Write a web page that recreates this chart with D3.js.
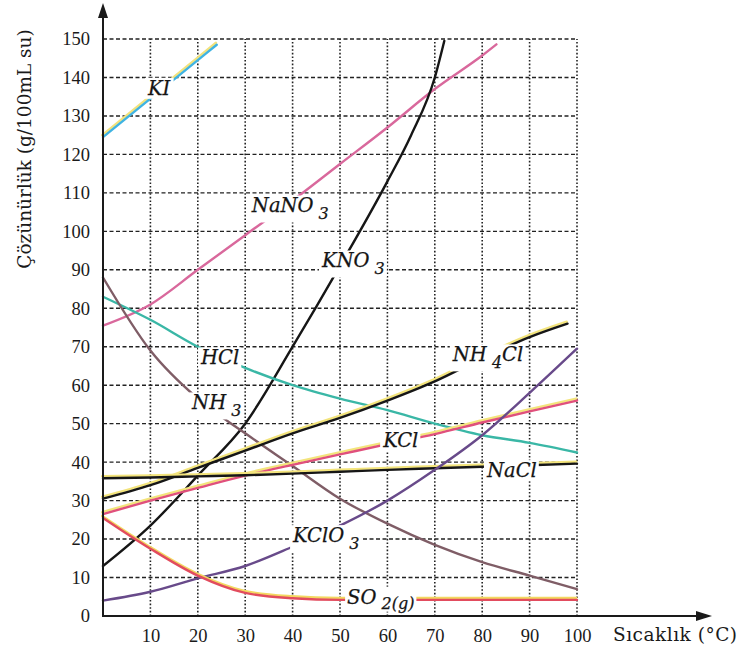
<!DOCTYPE html>
<html>
<head>
<meta charset="utf-8">
<script src="https://cdn.jsdelivr.net/npm/d3@7.9.0/dist/d3.min.js"></script>
<style>
  body { margin: 0; background: #fff; }
  svg { display: block; }
  .lbl { font-family: "DejaVu Serif", serif; font-style: italic; font-size: 19.5px; fill: #151515; stroke: #151515; stroke-width: 0.25; }
  .tick text { font-family: "Liberation Serif", serif; font-size: 18.5px; fill: #1a1a1a; }
</style>
</head>
<body>
<svg id="chart" width="740" height="651"></svg>
<script>
// === values (g / 100 mL su) ===
const temps = [0, 10, 20, 30, 40, 50, 60, 70, 80, 90, 100];

const kiT = [0, 10, 20, 24];
const kiS = [124.5, 134.5, 144.5, 148.5];

const nano3T = [0, 10, 20, 30, 40, 50, 60, 70, 80, 83];
const nano3S = [75.5, 81, 90, 99, 108, 117.5, 127, 137, 145.7, 148.6];

const kno3T = [0, 10, 20, 30, 40, 50, 60, 65, 70, 72];
const kno3S = [13, 23.5, 36.5, 50, 70, 91, 113, 125, 140, 149.5];

const nh4clT = [0, 10, 20, 30, 40, 50, 60, 70, 80, 90, 98];
const nh4clS = [30.5, 34, 38.5, 43, 47.5, 51.5, 56, 61, 67, 72.5, 76];

const hclS = [83, 77, 70, 64.5, 60, 56.5, 53.5, 50, 47, 45, 42.5];
const nh3S = [88, 69, 56.5, 47.5, 39, 30.5, 24, 18.5, 14, 10.5, 7];
const kclS = [26.5, 30, 33.3, 36.5, 39.3, 42, 44.7, 47.3, 50.3, 53.2, 56];
const naclS = [35.8, 36, 36.3, 36.6, 37, 37.5, 38, 38.4, 38.8, 39.2, 39.6];
const kclo3S = [4, 6.3, 9.8, 13, 18, 23.5, 30, 38, 47, 58, 69.5];
const so2S = [25.5, 17.5, 10.5, 6, 4.6, 4.2, 4.2, 4.2, 4.2, 4.2, 4.2];

// label names and where they sit (temperature, solubility of the text baseline start)
const labelNames = ['KI', 'NaNO3', 'KNO3', 'HCl', 'NH3', 'NH4Cl', 'KCl', 'NaCl', 'KClO3', 'SO2(g)'];
const labelT = [9.5, 31.4, 46.2, 20.7, 18.8, 73.8, 59.1, 81, 40.1, 51.5];
const labelS = [135.5, 104.9, 90.6, 65.4, 53.7, 66.2, 43.9, 36.1, 19.2, 3.2];

const yTicks = d3.range(0, 151, 10);
const xTicks = d3.range(10, 101, 10);

// === scales ===
const svg = d3.select('#chart');
const x = d3.scaleLinear().domain([0, 100]).range([103, 577]);
const y = d3.scaleLinear().domain([0, 150]).range([616, 39]);

// grid: dashed horizontals, dotted verticals
const grid = svg.append('g').attr('stroke', '#222').attr('fill', 'none');
grid.selectAll('line.h')
  .data(yTicks.filter(d => d > 0))
  .join('line')
  .attr('class', 'h')
  .attr('x1', x(0)).attr('x2', x(100))
  .attr('y1', d => y(d)).attr('y2', d => y(d))
  .attr('stroke-width', 1.4)
  .attr('stroke-dasharray', '4,2.5');
grid.selectAll('line.v')
  .data(xTicks)
  .join('line')
  .attr('class', 'v')
  .attr('x1', d => x(d)).attr('x2', d => x(d))
  .attr('y1', y(0)).attr('y2', y(150))
  .attr('stroke-width', 1.6)
  .attr('stroke-dasharray', '1.6,2');

// === curves ===
const series = [
  { t: kiT, s: kiS, color: '#3fb3e2', under: '#f2e27c' },
  { t: nano3T, s: nano3S, color: '#d9689c' },
  { t: kno3T, s: kno3S, color: '#161616' },
  { t: temps, s: hclS, color: '#3ab7a6' },
  { t: temps, s: nh3S, color: '#7f5d66' },
  { t: nh4clT, s: nh4clS, color: '#161616', under: '#f3e47c' },
  { t: temps, s: kclS, color: '#e0507c', under: '#f3e47c' },
  { t: temps, s: naclS, color: '#161616', under: '#f3e47c' },
  { t: temps, s: kclo3S, color: '#684a8a' },
  { t: temps, s: so2S, color: '#e24c5e', under: '#f3d860' }
];

const line = d3.line()
  .x(d => x(d[0]))
  .y(d => y(d[1]))
  .curve(d3.curveMonotoneX);

const curves = svg.append('g').attr('fill', 'none').attr('stroke-linecap', 'round');
series.forEach(sr => {
  const pts = sr.t.map((t, i) => [t, sr.s[i]]);
  if (sr.under) {
    curves.append('path')
      .attr('d', line(pts))
      .attr('transform', 'translate(-0.8,-2)')
      .attr('stroke', sr.under)
      .attr('stroke-width', 2.4);
  }
  curves.append('path')
    .attr('d', line(pts))
    .attr('stroke', sr.color)
    .attr('stroke-width', 2.4);
});

// === labels (white box behind breaks the curves like the print) ===
const labels = svg.append('g');
labelNames.forEach((name, i) => {
  const g = labels.append('g');
  const txt = g.append('text')
    .attr('class', 'lbl')
    .attr('x', x(labelT[i]))
    .attr('y', y(labelS[i]));
  // split formula into normal text and subscripts
  const parts = name.match(/(\d+(\(g\))?|[^\d]+)/g);
  let low = false;
  parts.forEach(p => {
    const isSub = /^\d/.test(p);
    const ts = txt.append('tspan').text(p);
    if (isSub && !low) {
      const drop = p.length > 1 ? 5 : 7;
      ts.attr('dx', 5).attr('dy', drop).attr('font-size', '16px');
      low = drop;
    } else if (!isSub && low) {
      ts.attr('dy', -low);
      low = false;
    }
  });
  const bb = txt.node().getBBox();
  g.insert('rect', 'text')
    .attr('x', bb.x - 2).attr('y', bb.y + 1)
    .attr('width', bb.width + 4).attr('height', bb.height - 2)
    .attr('fill', '#fff');
});

// === axes ===
const yAxis = svg.append('g')
  .attr('transform', `translate(${x(0)},0)`)
  .call(d3.axisLeft(y).tickValues(yTicks).tickSize(0).tickPadding(13));
yAxis.select('.domain').remove();

const xAxis = svg.append('g')
  .attr('transform', `translate(0,${y(0)})`)
  .call(d3.axisBottom(x).tickValues(xTicks).tickSize(0).tickPadding(13));
xAxis.select('.domain').remove();
svg.selectAll('.tick text').attr('font-family', null).attr('font-size', null);

// axis lines with arrows
const ax = svg.append('g').attr('stroke', '#1a1a1a').attr('stroke-width', 2);
ax.append('line').attr('x1', x(0)).attr('x2', x(0)).attr('y1', y(0) + 1).attr('y2', 14);
ax.append('line').attr('x1', x(0) - 1).attr('x2', 700).attr('y1', y(0)).attr('y2', y(0));
svg.append('path')
  .attr('d', `M${x(0)},3 L${x(0) - 5},18 L${x(0) + 5},18 Z`)
  .attr('fill', '#1a1a1a');
svg.append('path')
  .attr('d', `M712,${y(0)} L696,${y(0) - 5} L696,${y(0) + 5} Z`)
  .attr('fill', '#1a1a1a');

// axis titles
svg.append('text')
  .attr('x', 613).attr('y', 641)
  .attr('font-family', '"DejaVu Serif", serif')
  .attr('font-size', 18.5)
  .attr('textLength', 124)
  .attr('fill', '#1a1a1a')
  .text('Sıcaklık (°C)');

svg.append('text')
  .attr('transform', 'translate(31,149) rotate(-90)')
  .attr('text-anchor', 'middle')
  .attr('font-family', '"DejaVu Serif", serif')
  .attr('font-size', 18.5)
  .attr('fill', '#1a1a1a')
  .text('Çözünürlük (g/100mL su)');
</script>
</body>
</html>
